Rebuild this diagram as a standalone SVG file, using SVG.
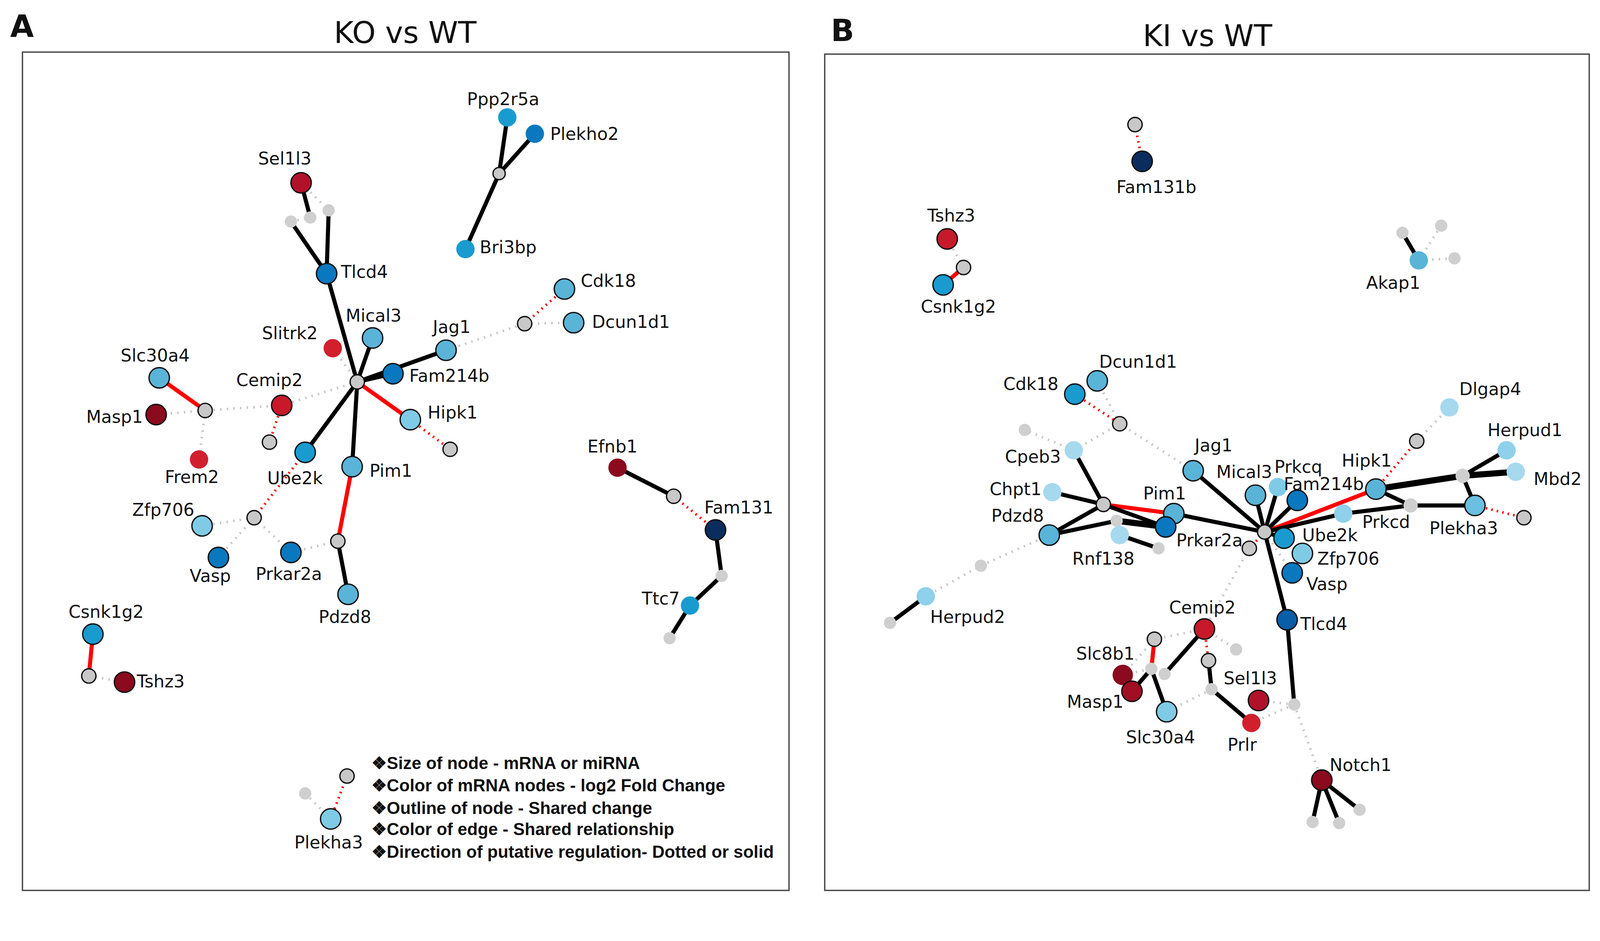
<svg xmlns="http://www.w3.org/2000/svg" width="4261" height="2408" viewBox="0 0 4261 2408">
<style>
text{font-family:"DejaVu Sans","Liberation Sans",sans-serif;font-size:17px;fill:#111}
.t{font-size:29.5px}.p{font-size:30px;font-weight:bold}
.lg{font-size:16.9px;font-weight:bold;font-family:"Liberation Sans",Arial,sans-serif}
.frame{fill:none;stroke:#444;stroke-width:1.3}
.k{stroke:#000;stroke-width:4;fill:none}
.kt{stroke:#000;stroke-width:6;fill:none}
.r{stroke:#f00;stroke-width:4;fill:none}
.rd{stroke:#f00;stroke-width:2.5;stroke-dasharray:1.5 4;fill:none}
.gd{stroke:#c8c8c8;stroke-width:2.5;stroke-dasharray:1.5 5;fill:none}
circle{stroke:#111;stroke-width:1.3}
.g{fill:#c8c8c8}
.gn{fill:#cfcfcf;stroke:none}
.c1{fill:#1a9bd0}.c2{fill:#0a78bf}.c3{fill:#5ab4d8}.c4{fill:#7fcbe6}.c5{fill:#a6d9ee;stroke:none}
.c6{fill:#0a5ea8}.c7{fill:#0b2d5e}
.r1{fill:#b1122a}.r2{fill:#d11f2e}.r3{fill:#8b0a1e}.r4{fill:#c8192b}
.m{text-anchor:middle}.e{text-anchor:end}
</style>
<rect width="4261" height="2408" fill="#fff"/>
<g transform="scale(2.613)">
<rect class="frame" x="22" y="51" width="751" height="821"/>
<rect class="frame" x="808" y="53" width="749" height="819"/>
<text class="p" x="10" y="36">A</text>
<text class="t m" x="397" y="42">KO vs WT</text>
<text class="p" x="814" y="40">B</text>
<text class="t m" x="1183" y="45">KI vs WT</text>

<g id="edges">
<path class="k" d="M489 170L497 115M489 170L524 131M489 170L456 244"/>
<path class="k" d="M295 179L304 213M285 217L320 268M322 206L320 268M320 268L350 374"/>
<path class="gd" d="M295 179L322 206M285 217L304 213"/>
<path class="k" d="M350 374L365 331M350 374L437 343M350 374L385 366M350 374L299 443M350 374L345 457M331 530L341 582"/>
<path class="gd" d="M350 374L326 341M350 374L276 397L201 402M201 402L153 406M201 402L195 450M437 343L514 317M514 317L562 316M331 530L285 541M249 507L198 515M249 507L214 546M249 507L285 541"/>
<path class="r" d="M350 374L402 411M345 457L331 530M201 402L156 370M91 621L87 662"/>
<path class="rd" d="M402 411L441 440M514 317L553 283M276 397L264 433M249 507L299 443M660 486L701 519M340 760L324 802"/>
<path class="k" d="M605 458L660 486M701 519L707 564L676 593L656 625"/>
<path class="gd" d="M87 662L122 668M299 777L324 802"/>
<path class="rd" d="M1112 122L1119 158M1053 386L1097 415M1348 479L1388 432M1445 495L1493 507M1239 521L1224 537M1180 616L1184 647M1128 655L1143 697"/>
<path class="r" d="M924 279L944 262M1239 521L1348 479M1081 494L1150 503M1131 626L1128 655"/>
<path class="gd" d="M944 262L928 234M1390 255L1412 221M1390 255L1425 253M1075 373L1097 415L1169 461M1052 441L1004 421M1052 441L1097 415M1028 524L961 554L907 584M1388 432L1420 399M1239 521L1276 542M1239 521L1266 561M1224 537L1180 616M1268 690L1295 764M1268 690L1233 686M1268 690L1226 708M1180 616L1131 626M1180 616L1211 636M1187 675L1143 697M1100 661L1128 655M1131 626L1100 661"/>
<path class="k" d="M1374 228L1390 255M907 584L872 610M1239 521L1169 461M1239 521L1230 485M1239 521L1252 477M1239 521L1271 490M1239 521L1316 503M1239 521L1258 527M1239 521L1150 503M1239 521L1261 607L1268 690M1052 441L1081 494M1031 482L1081 494M1028 524L1081 494M1081 494L1142 516M1028 524L1094 510M1097 524L1135 537M1433 466L1476 441M1382 495L1445 495M1433 466L1445 495M1348 479L1382 495M1316 503L1382 495M1295 764L1286 805M1295 764L1312 806M1295 764L1332 793M1180 616L1141 660M1184 647L1187 675L1226 708M1128 655L1109 677M1128 655L1143 697"/>
<path class="kt" d="M1348 479L1433 466L1485 462M1094 510L1142 516"/>
</g>

<g id="nodesA">
<g id="a-hub1"><circle class="g" cx="489" cy="170" r="6"/></g>
<g id="a-Ppp2r5a"><circle class="c1" cx="497" cy="115" r="9" style="stroke:none"/><text class="m" x="493" y="103">Ppp2r5a</text></g>
<g id="a-Plekho2"><circle class="c2" cx="524" cy="131" r="9" style="stroke:none"/><text x="539" y="137">Plekho2</text></g>
<g id="a-Bri3bp"><circle class="c1" cx="456" cy="244" r="9" style="stroke:none"/><text x="470" y="248">Bri3bp</text></g>
<g id="a-Sel1l3"><circle class="r1" cx="295" cy="179" r="10"/><text class="m" x="279" y="161">Sel1l3</text></g>
<g id="a-g1"><circle class="gn" cx="285" cy="217" r="6"/><circle class="gn" cx="304" cy="213" r="6"/><circle class="gn" cx="322" cy="206" r="6"/></g>
<g id="a-Tlcd4"><circle class="c2" cx="320" cy="268" r="10"/><text x="334" y="272">Tlcd4</text></g>
<g id="a-hub"><circle class="g" cx="350" cy="374" r="7"/></g>
<g id="a-Mical3"><circle class="c3" cx="365" cy="331" r="10"/><text class="m" x="366" y="315">Mical3</text></g>
<g id="a-Slitrk2"><circle class="r2" cx="326" cy="341" r="9" style="stroke:none"/><text class="m" x="284" y="332">Slitrk2</text></g>
<g id="a-Jag1"><circle class="c3" cx="437" cy="343" r="10"/><text x="424" y="326">Jag1</text></g>
<g id="a-Fam214b"><circle class="c2" cx="385" cy="366" r="10"/><text x="401" y="374">Fam214b</text></g>
<g id="a-Hipk1"><circle class="c4" cx="402" cy="411" r="10"/><text x="419" y="410">Hipk1</text></g>
<g id="a-g2"><circle class="g" cx="441" cy="440" r="7"/></g>
<g id="a-Ube2k"><circle class="c1" cx="299" cy="443" r="10"/><text class="m" x="289" y="474">Ube2k</text></g>
<g id="a-Pim1"><circle class="c3" cx="345" cy="457" r="10"/><text x="362" y="467">Pim1</text></g>
<g id="a-g3"><circle class="g" cx="331" cy="530" r="7"/></g>
<g id="a-Prkar2a"><circle class="c2" cx="285" cy="541" r="10"/><text class="m" x="283" y="568">Prkar2a</text></g>
<g id="a-Pdzd8"><circle class="c3" cx="341" cy="582" r="10"/><text class="m" x="338" y="610">Pdzd8</text></g>
<g id="a-g4"><circle class="g" cx="514" cy="317" r="7"/></g>
<g id="a-Cdk18"><circle class="c3" cx="553" cy="283" r="10"/><text x="569" y="281">Cdk18</text></g>
<g id="a-Dcun1d1"><circle class="c3" cx="562" cy="316" r="10"/><text x="580" y="321">Dcun1d1</text></g>
<g id="a-Cemip2"><circle class="r4" cx="276" cy="397" r="10"/><text class="m" x="264" y="378">Cemip2</text></g>
<g id="a-g5"><circle class="g" cx="201" cy="402" r="7"/><circle class="g" cx="264" cy="433" r="7"/></g>
<g id="a-Slc30a4"><circle class="c3" cx="156" cy="370" r="10"/><text class="m" x="152" y="354">Slc30a4</text></g>
<g id="a-Masp1"><circle class="r3" cx="153" cy="406" r="10"/><text class="e" x="140" y="414">Masp1</text></g>
<g id="a-Frem2"><circle class="r2" cx="195" cy="450" r="9" style="stroke:none"/><text class="m" x="188" y="473">Frem2</text></g>
<g id="a-g6"><circle class="g" cx="249" cy="507" r="7"/></g>
<g id="a-Zfp706"><circle class="c4" cx="198" cy="515" r="10"/><text class="m" x="160" y="505">Zfp706</text></g>
<g id="a-Vasp"><circle class="c2" cx="214" cy="546" r="10"/><text class="m" x="206" y="570">Vasp</text></g>
<g id="a-Efnb1"><circle class="r3" cx="605" cy="458" r="9" style="stroke:none"/><text class="m" x="600" y="443">Efnb1</text></g>
<g id="a-g7"><circle class="g" cx="660" cy="486" r="7"/><circle class="gn" cx="707" cy="564" r="6"/><circle class="gn" cx="656" cy="625" r="6"/></g>
<g id="a-Fam131"><circle class="c7" cx="701" cy="519" r="10"/><text x="690" y="503">Fam131</text></g>
<g id="a-Ttc7"><circle class="c1" cx="676" cy="593" r="9" style="stroke:none"/><text class="e" x="666" y="592">Ttc7</text></g>
<g id="a-Csnk1g2"><circle class="c1" cx="91" cy="621" r="10"/><text class="m" x="104" y="605">Csnk1g2</text></g>
<g id="a-g8"><circle class="g" cx="87" cy="662" r="7"/></g>
<g id="a-Tshz3"><circle class="r3" cx="122" cy="668" r="10"/><text x="134" y="673">Tshz3</text></g>
<g id="legend">
<circle class="g" cx="340" cy="760" r="7"/><circle class="gn" cx="299" cy="777" r="6"/>
<circle class="c4" cx="324" cy="802" r="10"/><text class="m" x="322" y="831">Plekha3</text>
<text class="lg" x="364" y="753">❖Size of node - mRNA or miRNA</text>
<text class="lg" x="364" y="775">❖Color of mRNA nodes - log2 Fold Change</text>
<text class="lg" x="364" y="797">❖Outline of node - Shared change</text>
<text class="lg" x="364" y="818">❖Color of edge - Shared relationship</text>
<text class="lg" x="364" y="840">❖Direction of putative regulation- Dotted or solid</text>
</g>
</g>

<g id="nodesB">
<g id="b-g1"><circle class="g" cx="1112" cy="122" r="7"/></g>
<g id="b-Fam131b"><circle class="c7" cx="1119" cy="158" r="10"/><text class="m" x="1133" y="189">Fam131b</text></g>
<g id="b-Tshz3"><circle class="r4" cx="928" cy="234" r="10"/><text class="m" x="932" y="217">Tshz3</text></g>
<g id="b-g2"><circle class="g" cx="944" cy="262" r="7"/></g>
<g id="b-Csnk1g2"><circle class="c1" cx="924" cy="279" r="10"/><text class="m" x="939" y="306">Csnk1g2</text></g>
<g id="b-g3"><circle class="gn" cx="1374" cy="228" r="6"/><circle class="gn" cx="1412" cy="221" r="6"/><circle class="gn" cx="1425" cy="253" r="6"/></g>
<g id="b-Akap1"><circle class="c3" cx="1390" cy="255" r="9" style="stroke:none"/><text class="m" x="1365" y="283">Akap1</text></g>
<g id="b-Cdk18"><circle class="c1" cx="1053" cy="386" r="10"/><text class="m" x="1010" y="382">Cdk18</text></g>
<g id="b-Dcun1d1"><circle class="c3" cx="1075" cy="373" r="10"/><text class="m" x="1115" y="360">Dcun1d1</text></g>
<g id="b-g4"><circle class="g" cx="1097" cy="415" r="7"/><circle class="gn" cx="1004" cy="421" r="6"/></g>
<g id="b-Cpeb3"><circle class="c5" cx="1052" cy="441" r="9"/><text class="m" x="1012" y="453">Cpeb3</text></g>
<g id="b-Chpt1"><circle class="c5" cx="1031" cy="482" r="9"/><text class="m" x="995" y="485">Chpt1</text></g>
<g id="b-Pdzd8"><circle class="c3" cx="1028" cy="524" r="10"/><text class="m" x="997" y="511">Pdzd8</text></g>
<g id="b-g5"><circle class="g" cx="1081" cy="494" r="7"/><circle class="gn" cx="1094" cy="510" r="6"/><circle class="gn" cx="1135" cy="537" r="6"/></g>
<g id="b-Pim1"><circle class="c3" cx="1150" cy="503" r="10"/><text class="m" x="1141" y="489">Pim1</text></g>
<g id="b-Prkar2a"><circle class="c2" cx="1142" cy="516" r="10"/><text class="m" x="1185" y="535">Prkar2a</text></g>
<g id="b-Rnf138"><circle class="c5" cx="1097" cy="524" r="9"/><text class="m" x="1081" y="553">Rnf138</text></g>
<g id="b-g6"><circle class="gn" cx="961" cy="554" r="6"/><circle class="gn" cx="872" cy="610" r="6"/></g>
<g id="b-Herpud2"><circle class="c5" cx="907" cy="584" r="9" style="fill:#8fd0ea"/><text class="m" x="948" y="610">Herpud2</text></g>
<g id="b-Jag1"><circle class="c3" cx="1169" cy="461" r="10"/><text class="m" x="1189" y="442">Jag1</text></g>
<g id="b-hub"><circle class="g" cx="1239" cy="521" r="7"/><circle class="g" cx="1224" cy="537" r="7"/></g>
<g id="b-Mical3"><circle class="c3" cx="1230" cy="485" r="10"/><text class="m" x="1219" y="468">Mical3</text></g>
<g id="b-Prkcq"><circle class="c5" cx="1252" cy="477" r="9" style="fill:#7fcbe6"/><text class="m" x="1272" y="463">Prkcq</text></g>
<g id="b-Fam214b"><circle class="c2" cx="1271" cy="490" r="10"/><text class="m" x="1297" y="480">Fam214b</text></g>
<g id="b-Hipk1"><circle class="c3" cx="1348" cy="479" r="10"/><text class="m" x="1339" y="457">Hipk1</text></g>
<g id="b-Prkcd"><circle class="c5" cx="1316" cy="503" r="9" style="fill:#8fd0ea"/><text class="m" x="1358" y="517">Prkcd</text></g>
<g id="b-Ube2k"><circle class="c1" cx="1258" cy="527" r="10"/><text class="m" x="1303" y="530">Ube2k</text></g>
<g id="b-Zfp706"><circle class="c4" cx="1276" cy="542" r="10"/><text class="m" x="1321" y="553">Zfp706</text></g>
<g id="b-Vasp"><circle class="c2" cx="1266" cy="561" r="10"/><text class="m" x="1300" y="578">Vasp</text></g>
<g id="b-Tlcd4"><circle class="c6" cx="1261" cy="607" r="10"/><text class="m" x="1297" y="617">Tlcd4</text></g>
<g id="b-g7"><circle class="g" cx="1388" cy="432" r="7"/><circle class="gn" cx="1433" cy="466" r="7"/><circle class="gn" cx="1382" cy="495" r="7"/><circle class="g" cx="1493" cy="507" r="7"/></g>
<g id="b-Dlgap4"><circle class="c5" cx="1420" cy="399" r="9"/><text class="m" x="1460" y="387">Dlgap4</text></g>
<g id="b-Herpud1"><circle class="c5" cx="1476" cy="441" r="9" style="fill:#8fd0ea"/><text class="m" x="1494" y="427">Herpud1</text></g>
<g id="b-Mbd2"><circle class="c5" cx="1485" cy="462" r="9"/><text class="m" x="1526" y="475">Mbd2</text></g>
<g id="b-Plekha3"><circle class="c3" cx="1445" cy="495" r="10" style="fill:#6bbfe0"/><text class="m" x="1434" y="523">Plekha3</text></g>
<g id="b-Cemip2"><circle class="r4" cx="1180" cy="616" r="10"/><text class="m" x="1178" y="601">Cemip2</text></g>
<g id="b-g8"><circle class="g" cx="1131" cy="626" r="7"/><circle class="gn" cx="1211" cy="636" r="6"/><circle class="g" cx="1184" cy="647" r="7"/><circle class="gn" cx="1187" cy="675" r="6"/><circle class="gn" cx="1128" cy="655" r="6"/><circle class="gn" cx="1141" cy="660" r="6"/></g>
<g id="b-Slc8b1"><circle class="r3" cx="1100" cy="661" r="10" style="stroke:none"/><text class="m" x="1083" y="646">Slc8b1</text></g>
<g id="b-Masp1"><circle class="r3" cx="1109" cy="677" r="10" style="fill:#a00f24"/><text class="m" x="1073" y="693">Masp1</text></g>
<g id="b-Slc30a4"><circle class="c4" cx="1143" cy="697" r="10"/><text class="m" x="1137" y="728">Slc30a4</text></g>
<g id="b-Sel1l3"><circle class="r1" cx="1233" cy="686" r="10"/><text class="m" x="1225" y="670">Sel1l3</text></g>
<g id="b-Prlr"><circle class="r2" cx="1226" cy="708" r="9" style="stroke:none"/><text class="m" x="1217" y="735">Prlr</text></g>
<g id="b-g9"><circle class="gn" cx="1268" cy="690" r="6"/><circle class="gn" cx="1286" cy="805" r="6"/><circle class="gn" cx="1312" cy="806" r="6"/><circle class="gn" cx="1332" cy="793" r="6"/></g>
<g id="b-Notch1"><circle class="r3" cx="1295" cy="764" r="10"/><text class="m" x="1333" y="755">Notch1</text></g>
</g>
</g>
</svg>
